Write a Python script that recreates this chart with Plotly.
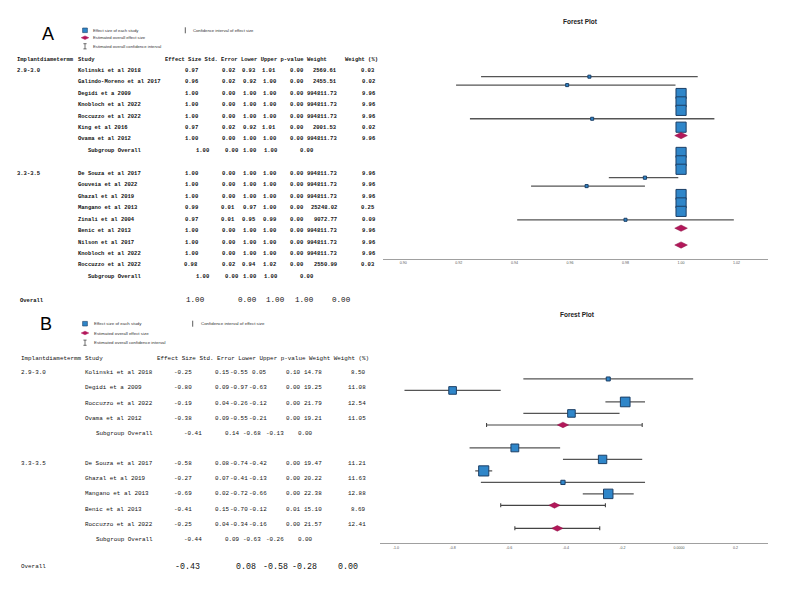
import plotly.graph_objects as go

# ---------------- DATA : panel A ----------------
A_group_labels = ["2.9-3.0", "3.3-3.5"]
A_studies_1 = ["Kolinski et al 2018", "Galindo-Moreno et al 2017", "Degidi et a 2009",
               "Knobloch et al 2022", "Roccuzzo et al 2022", "King et al 2016", "Ovama et al 2012"]
A_effect_1 = [0.967, 0.959, 1.00, 1.00, 1.00, 0.968, 1.00]
A_se_1 = [0.02, 0.02, 0.00, 0.00, 0.00, 0.02, 0.00]
A_lower_1 = [0.928, 0.919, 1.00, 1.00, 1.00, 0.924, 1.00]
A_upper_1 = [1.006, 0.998, 1.00, 1.00, 1.00, 1.012, 1.00]
A_p_1 = [0.00, 0.00, 0.00, 0.00, 0.00, 0.00, 0.00]
A_weight_1 = [2569.61, 2455.51, 994811.73, 994811.73, 994811.73, 2001.53, 994811.73]
A_wpct_1 = [0.03, 0.02, 9.96, 9.96, 9.96, 0.02, 9.96]
A_sub_1 = [1.00, 0.00, 1.00, 1.00, 0.00]   # effect, se, lower, upper, p

A_studies_2 = ["De Souza et al 2017", "Gouveia et al 2022", "Ghazal et al 2019", "Mangano et al 2013",
               "Zinali et al 2004", "Benic et al 2013", "Nilson et al 2017", "Knobloch et al 2022",
               "Roccuzzo et al 2022"]
A_effect_2 = [1.00, 1.00, 1.00, 0.987, 0.966, 1.00, 1.00, 1.00, 0.980]
A_se_2 = [0.00, 0.00, 0.00, 0.01, 0.01, 0.00, 0.00, 0.00, 0.02]
A_lower_2 = [1.00, 1.00, 1.00, 0.974, 0.946, 1.00, 1.00, 1.00, 0.941]
A_upper_2 = [1.00, 1.00, 1.00, 0.999, 0.987, 1.00, 1.00, 1.00, 1.019]
A_p_2 = [0.00, 0.00, 0.00, 0.00, 0.00, 0.00, 0.00, 0.00, 0.00]
A_weight_2 = [994811.73, 994811.73, 994811.73, 25248.02, 9072.77, 994811.73, 994811.73, 994811.73, 2550.99]
A_wpct_2 = [9.96, 9.96, 9.96, 0.25, 0.09, 9.96, 9.96, 9.96, 0.03]
A_sub_2 = [1.00, 0.00, 1.00, 1.00, 0.00]
A_overall = [1.00, 0.00, 1.00, 1.00, 0.00]
A_ticks = [0.90, 0.92, 0.94, 0.96, 0.98, 1.00, 1.02]
A_ticktext = ["0.90", "0.92", "0.94", "0.96", "0.98", "1.00", "1.02"]

# ---------------- DATA : panel B ----------------
B_group_labels = ["2.9-3.0", "3.3-3.5"]
B_studies_1 = ["Kolinski et al 2018", "Degidi et a 2009", "Roccuzzo et al 2022", "Ovama et al 2012"]
B_effect_1 = [-0.25, -0.80, -0.19, -0.38]
B_se_1 = [0.15, 0.09, 0.04, 0.09]
B_lower_1 = [-0.55, -0.97, -0.26, -0.55]
B_upper_1 = [0.05, -0.63, -0.12, -0.21]
B_p_1 = [0.10, 0.00, 0.00, 0.00]
B_weight_1 = [14.78, 19.25, 21.79, 19.21]
B_wpct_1 = [8.50, 11.08, 12.54, 11.05]
B_sub_1 = [-0.41, 0.14, -0.68, -0.13, 0.00]

B_studies_2 = ["De Souza et al 2017", "Ghazal et al 2019", "Mangano et al 2013", "Benic et al 2013",
               "Roccuzzo et al 2022"]
B_effect_2 = [-0.58, -0.27, -0.69, -0.41, -0.25]
B_se_2 = [0.08, 0.07, 0.02, 0.15, 0.04]
B_lower_2 = [-0.74, -0.41, -0.72, -0.70, -0.34]
B_upper_2 = [-0.42, -0.13, -0.66, -0.12, -0.16]
B_p_2 = [0.00, 0.00, 0.00, 0.01, 0.00]
B_weight_2 = [19.47, 20.22, 22.38, 15.10, 21.57]
B_wpct_2 = [11.21, 11.63, 12.88, 8.69, 12.41]
B_sub_2 = [-0.44, 0.09, -0.63, -0.26, 0.00]
B_overall = [-0.43, 0.08, -0.58, -0.28, 0.00]
B_ticks = [-1.0, -0.8, -0.6, -0.4, -0.2, 0.0, 0.2]
B_ticktext = ["-1.0", "-0.8", "-0.6", "-0.4", "-0.2", "0.0000", "0.2"]

HEADER_LEFT = "Implantdiametermm"
HEADER_STUDY = "Study"
A_HEADER_MID = "Effect Size Std. Error Lower Upper p-value Weight"
A_HEADER_END = "Weight (%)"
B_HEADER = "Effect Size Std. Error Lower Upper p-value Weight Weight (%)"
LEG_TEXTS = ["Effect size of each study", "Estimated overall effect size",
             "Estimated overall confidence interval", "Confidence interval of effect size"]

# ---------------- STYLE ----------------
W, H = 793, 597
BLUE = "#2f86c9"
BLUE_EDGE = "#1c3f66"
CRIMSON = "#b3175a"
CI_COL = "#555555"
MONO = "Liberation Mono, Courier New, monospace"
SANS = "Liberation Sans, Arial, sans-serif"


def px(x):
    return x / W


def py(y):
    return 1 - y / H


fig = go.Figure()
annotations = []
shapes = []


def txt(x, y, s, size, anchor="left", font=MONO, bold=False, color="#111"):
    annotations.append(dict(
        x=px(x), y=py(y), xref="paper", yref="paper", xanchor=anchor, yanchor="middle",
        text=("<b>%s</b>" % s) if bold else s, showarrow=False,
        font=dict(family=font, size=size, color=color)))


def f2(v):
    return "%.2f" % v


def panel_table(cfg, groups, sections, sub_rows, overall):
    bold = cfg["bold"]
    fs = cfg["fs"]
    c = cfg["cols"]
    s = cfg["subcols"]
    o = cfg["ovcols"]
    row = 0
    for gi, (sec, sub) in enumerate(zip(sections, sub_rows)):
        names, eff, se, lo, up, p, w, wp = sec
        for i in range(len(names)):
            y = cfg["y0"] + row * cfg["dy"]
            if i == 0:
                txt(c["group"], y, groups[gi], fs, bold=bold)
            txt(c["study"], y, names[i], fs, bold=bold)
            txt(c["eff"], y, f2(eff[i]), fs, "right", bold=bold)
            txt(c["se"], y, f2(se[i]), fs, "right", bold=bold)
            txt(c["lo"], y, f2(lo[i]), fs, "right", bold=bold)
            txt(c["up"], y, f2(up[i]), fs, "right", bold=bold)
            txt(c["p"], y, f2(p[i]), fs, "right", bold=bold)
            txt(c["w"], y, f2(w[i]), fs, "right", bold=bold)
            txt(c["wp"], y, f2(wp[i]), fs, "right", bold=bold)
            row += 1
        y = cfg["y0"] + row * cfg["dy"]
        txt(s["label"], y, "Subgroup Overall", fs, bold=bold)
        for key, v in zip(["eff", "se", "lo", "up", "p"], sub):
            txt(s[key], y, f2(v), fs, "right", bold=bold)
        row += 2
    y = cfg["y_overall"]
    txt(o["label"], y, "Overall", fs, bold=bold)
    for key, v in zip(["eff", "se", "lo", "up", "p"], overall):
        txt(o[key], y, f2(v), cfg["fs_overall"], "right", bold=cfg["bold_overall"])
    # header
    hy = cfg["y_header"]
    txt(c["group"], hy, HEADER_LEFT, fs, bold=bold)
    txt(c["study"], hy, HEADER_STUDY, fs, bold=bold)
    for (hx, htxt) in cfg["header"]:
        txt(hx, hy, htxt, fs, bold=bold)


def legend(cfg):
    lx = cfg["x"]
    y1, y2, y3 = cfg["ys"]
    shapes.append(dict(type="rect", xref="paper", yref="paper",
                       x0=px(lx - 2.4), x1=px(lx + 2.4), y0=py(y1 + 2.3), y1=py(y1 - 2.3),
                       fillcolor=BLUE, line=dict(color=BLUE_EDGE, width=0.6)))
    path = "M %f %f L %f %f L %f %f L %f %f Z" % (
        px(lx - 3.8), py(y2), px(lx), py(y2 - 1.8), px(lx + 3.8), py(y2), px(lx), py(y2 + 1.8))
    shapes.append(dict(type="path", xref="paper", yref="paper", path=path,
                       fillcolor=CRIMSON, line=dict(color=CRIMSON, width=0.5)))
    for yy in (y3 - 2.6, y3 + 2.6):
        shapes.append(dict(type="line", xref="paper", yref="paper",
                           x0=px(lx - 1.6), x1=px(lx + 1.6), y0=py(yy), y1=py(yy),
                           line=dict(color="#333", width=0.7)))
    shapes.append(dict(type="line", xref="paper", yref="paper",
                       x0=px(lx), x1=px(lx), y0=py(y3 - 2.6), y1=py(y3 + 2.6),
                       line=dict(color="#333", width=0.7)))
    bx = cfg["bar_x"]
    shapes.append(dict(type="line", xref="paper", yref="paper",
                       x0=px(bx), x1=px(bx), y0=py(y1 - 3), y1=py(y1 + 3),
                       line=dict(color="#333", width=0.8)))
    tx = cfg["tx"]
    fs = cfg["fs"]
    txt(tx, y1, LEG_TEXTS[0], fs, font=SANS, color="#333")
    txt(tx, y2, LEG_TEXTS[1], fs, font=SANS, color="#333")
    txt(tx, y3, LEG_TEXTS[2], fs, font=SANS, color="#333")
    txt(bx + 6, y1, LEG_TEXTS[3], fs, font=SANS, color="#333")
    txt(cfg["letter_x"], cfg["letter_y"], cfg["letter"], 18, anchor="center", font=SANS, color="#000")


def panel_plot(sections, sub_rows, overall, xa, ya, size_fn, sum_cap, sum_size):
    row = 0
    sx, sy, ss, slo, sup = [], [], [], [], []
    dx, dy, dlo, dup = [], [], [], []
    for sec, sub in zip(sections, sub_rows):
        names, eff, se, lo, up, p, w, wp = sec
        for i in range(len(names)):
            sx.append(eff[i]); sy.append(row); ss.append(size_fn(wp[i]))
            slo.append(eff[i] - lo[i]); sup.append(up[i] - eff[i])
            row += 1
        dx.append(sub[0]); dy.append(row); dlo.append(sub[0] - sub[2]); dup.append(sub[3] - sub[0])
        row += 2
    dx.append(overall[0]); dy.append(row); dlo.append(overall[0] - overall[2]); dup.append(overall[3] - overall[0])

    fig.add_trace(go.Scatter(
        x=sx, y=sy, mode="markers", xaxis=xa, yaxis=ya, showlegend=False,
        marker=dict(symbol="square", size=ss, color=BLUE, opacity=1,
                    line=dict(color=BLUE_EDGE, width=1)),
        error_x=dict(type="data", symmetric=False, array=sup, arrayminus=slo,
                     color=CI_COL, thickness=1.3, width=0)))
    fig.add_trace(go.Scatter(
        x=dx, y=dy, mode="markers", xaxis=xa, yaxis=ya, showlegend=False,
        marker=dict(symbol="diamond-wide", size=sum_size, color=CRIMSON, opacity=1,
                    line=dict(color="#8a1043", width=0.5)),
        error_x=dict(type="data", symmetric=False, array=dup, arrayminus=dlo,
                     color="#444", thickness=1.1, width=sum_cap)))


# ---------- panel A ----------
secA = [(A_studies_1, A_effect_1, A_se_1, A_lower_1, A_upper_1, A_p_1, A_weight_1, A_wpct_1),
        (A_studies_2, A_effect_2, A_se_2, A_lower_2, A_upper_2, A_p_2, A_weight_2, A_wpct_2)]
panel_table(dict(
    bold=True, fs=5.5, fs_overall=7.6, bold_overall=False, y0=70.3, dy=11.45, y_overall=300,
    y_header=59.3,
    cols=dict(group=15, study=76, eff=200, se=237.3, lo=258.3, up=277.5, p=305, w=339.3, wp=376.7),
    subcols=dict(label=86, eff=210.7, se=240, lo=258.3, up=279.3, p=315),
    ovcols=dict(label=18.3, eff=207.3, se=259.3, lo=287.3, up=316, p=353.3),
    header=[(163.3, A_HEADER_MID), (343.3, A_HEADER_END)]),
    A_group_labels, secA, [A_sub_1, A_sub_2], A_overall)
legend(dict(x=85, ys=(30.3, 37.7, 46.3), tx=91, bar_x=185.3, fs=4.2,
            letter="A", letter_x=48.3, letter_y=34.3))
panel_plot(secA, [A_sub_1, A_sub_2], A_overall, "x", "y",
           lambda w: 3 + 0.72 * w, 0, 9)

# ---------- panel B ----------
secB = [(B_studies_1, B_effect_1, B_se_1, B_lower_1, B_upper_1, B_p_1, B_weight_1, B_wpct_1),
        (B_studies_2, B_effect_2, B_se_2, B_lower_2, B_upper_2, B_p_2, B_weight_2, B_wpct_2)]
panel_table(dict(
    bold=False, fs=5.9, fs_overall=8.3, bold_overall=False, y0=372.7, dy=15.15, y_overall=566.7,
    y_header=358.3,
    cols=dict(group=19, study=83.3, eff=194, se=231.7, lo=250, up=269.3, p=303.3, w=324, wp=368.3),
    subcols=dict(label=94.3, eff=204, se=242.3, lo=263.3, up=286, p=315),
    ovcols=dict(label=19, eff=201.7, se=258.3, lo=290, up=319.3, p=360),
    header=[(155, B_HEADER)]),
    B_group_labels, secB, [B_sub_1, B_sub_2], B_overall)
legend(dict(x=85, ys=(323.7, 333, 342.7), tx=91.7, bar_x=192.7, fs=4.4,
            letter="B", letter_x=46, letter_y=324))
panel_plot(secB, [B_sub_1, B_sub_2], B_overall, "x2", "y2",
           lambda w: 4 + 1.4 * (w - 8.5), 2, 8)

# titles
txt(580, 22, "Forest Plot", 6.5, anchor="center", font=SANS, bold=True, color="#222")
txt(577, 314, "Forest Plot", 6.5, anchor="center", font=SANS, bold=True, color="#222")

axis_common = dict(showgrid=False, zeroline=False, showline=True, linecolor="#a0a0a0", linewidth=1,
                   ticks="", tickfont=dict(family=SANS, size=3.6, color="#555"), fixedrange=True)

fig.update_layout(
    width=W, height=H, autosize=False,
    margin=dict(l=0, r=0, t=0, b=0),
    paper_bgcolor="white", plot_bgcolor="white",
    xaxis=dict(domain=[px(383), px(768)], range=[0.8927, 1.0313], anchor="y",
               tickvals=A_ticks, ticktext=A_ticktext, **axis_common),
    yaxis=dict(domain=[py(259), py(50)], range=[21.66, -3.17], visible=False, anchor="x"),
    xaxis2=dict(domain=[px(380), px(768)], range=[-1.0565, 0.3145], anchor="y2",
                tickvals=B_ticks, ticktext=B_ticktext, **axis_common),
    yaxis2=dict(domain=[py(543.3), py(330)], range=[14.3, -4.26], visible=False, anchor="x2"),
    annotations=annotations,
    shapes=shapes,
)

fig.write_html("out.html", config={"displayModeBar": False},
               post_script="document.body.style.margin='0';document.body.style.overflow='hidden';")
